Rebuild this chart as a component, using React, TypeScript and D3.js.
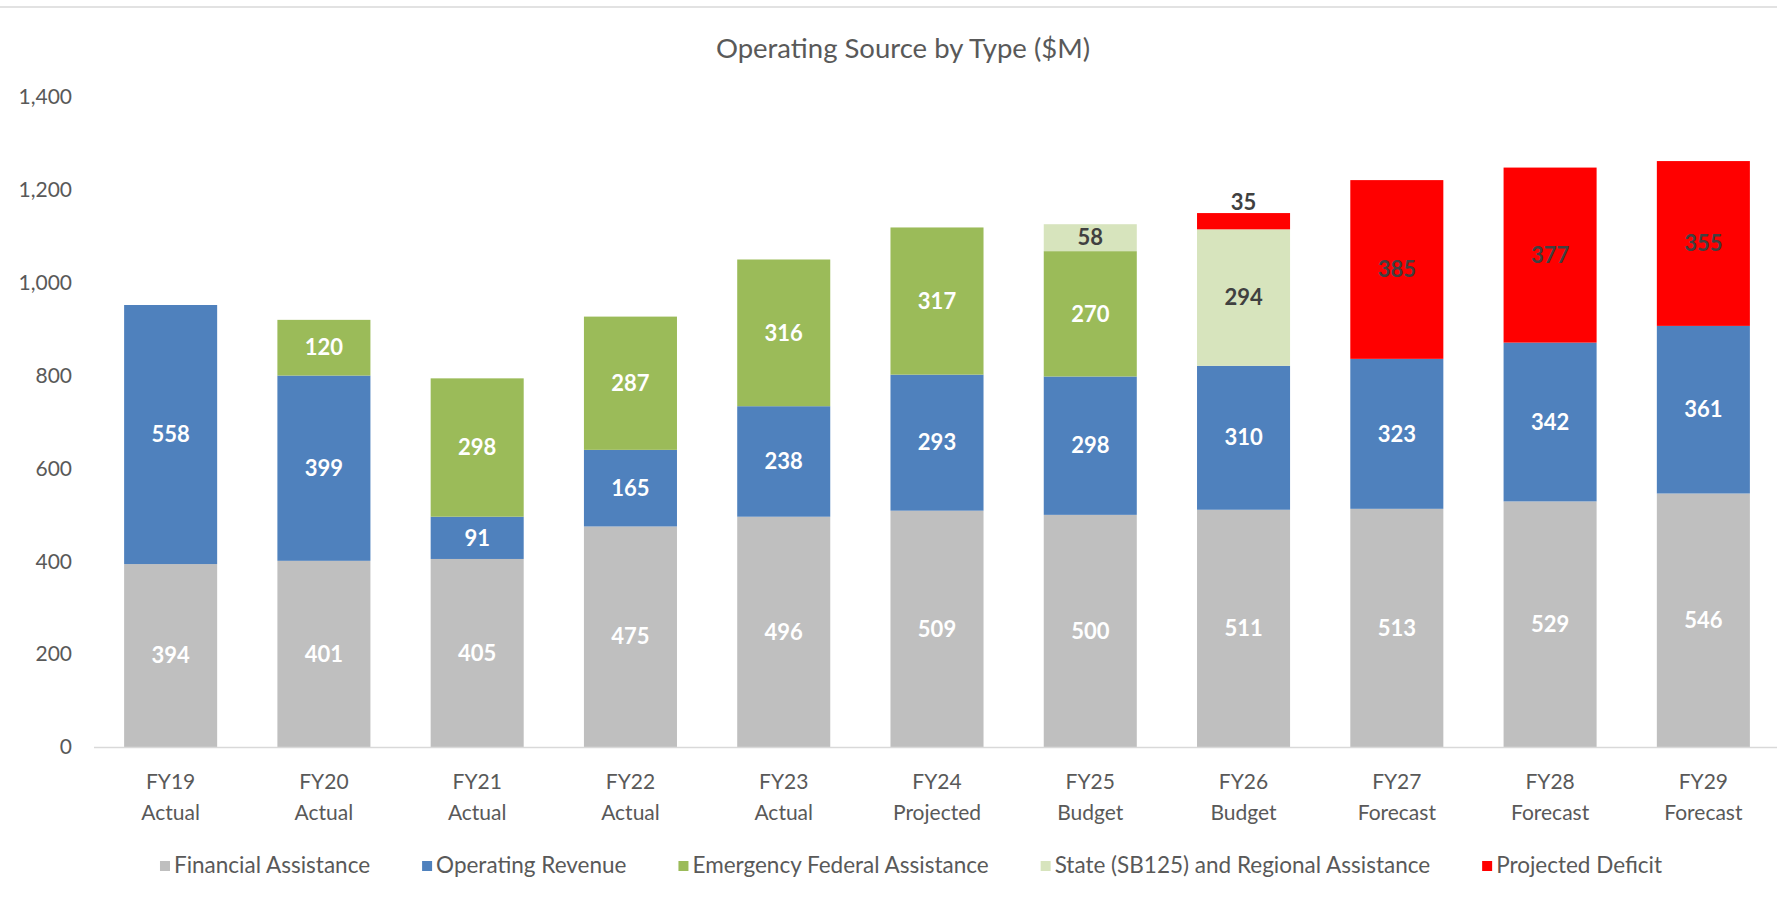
import { useEffect, useRef } from 'react';
import * as d3 from 'd3';

const years = ['FY19', 'FY20', 'FY21', 'FY22', 'FY23', 'FY24', 'FY25', 'FY26', 'FY27', 'FY28', 'FY29'];
const phases = ['Actual', 'Actual', 'Actual', 'Actual', 'Actual', 'Projected', 'Budget', 'Budget', 'Forecast', 'Forecast', 'Forecast'];

const financialAssistance = [394, 401, 405, 475, 496, 509, 500, 511, 513, 529, 546];
const operatingRevenue = [558, 399, 91, 165, 238, 293, 298, 310, 323, 342, 361];
const emergencyFederal = [0, 120, 298, 287, 316, 317, 270, 0, 0, 0, 0];
const stateRegional = [0, 0, 0, 0, 0, 0, 58, 294, 0, 0, 0];
const projectedDeficit = [0, 0, 0, 0, 0, 0, 0, 35, 385, 377, 355];

const seriesNames = [
  'Financial Assistance',
  'Operating Revenue',
  'Emergency Federal Assistance',
  'State (SB125) and Regional Assistance',
  'Projected Deficit',
];
const seriesColors = ['#BFBFBF', '#4F81BD', '#9BBB59', '#D7E4BD', '#FF0000'];
const labelColors = ['#FFFFFF', '#FFFFFF', '#FFFFFF', '#404040', '#404040'];

const yTicks = [0, 200, 400, 600, 800, 1000, 1200, 1400];

function App() {
  const svgRef = useRef<SVGSVGElement>(null);

  useEffect(() => {
    document.body.style.margin = '0';
    const width = 1777;
    const height = 898;
    const font = 'Lato, "Open Sans", sans-serif';

    const svg = d3.select(svgRef.current)
      .attr('width', width)
      .attr('height', height);
    svg.selectAll('*').remove();

    // frame line at the top
    svg.append('line')
      .attr('x1', 0).attr('x2', width)
      .attr('y1', 7).attr('y2', 7)
      .attr('stroke', '#D9D9D9')
      .attr('stroke-width', 1.5);

    svg.append('text')
      .attr('x', 903)
      .attr('y', 58)
      .attr('text-anchor', 'middle')
      .style('font-family', font)
      .style('font-size', '27.5px')
      .attr('fill', '#595959')
      .text('Operating Source by Type ($M)');

    const x = d3.scaleBand<string>()
      .domain(years)
      .range([94, 1780])
      .paddingInner(0.393)
      .paddingOuter(0.1965);

    const y = d3.scaleLinear()
      .domain([0, 1400])
      .range([747, 97]);

    // y axis labels
    svg.append('g')
      .selectAll('text')
      .data(yTicks)
      .enter().append('text')
      .attr('x', 72)
      .attr('y', d => y(d))
      .attr('dy', '0.35em')
      .attr('text-anchor', 'end')
      .style('font-family', font)
      .style('font-size', '21px')
      .attr('fill', '#595959')
      .text(d => d3.format(',')(d));

    const table = years.map((yr, i) => ({
      year: yr,
      s0: financialAssistance[i],
      s1: operatingRevenue[i],
      s2: emergencyFederal[i],
      s3: stateRegional[i],
      s4: projectedDeficit[i],
    }));
    const keys = ['s0', 's1', 's2', 's3', 's4'];
    const stacked = d3.stack<any>().keys(keys)(table);

    const layers = svg.append('g')
      .selectAll('g')
      .data(stacked)
      .enter().append('g')
      .attr('fill', (d, i) => seriesColors[i]);

    layers.selectAll('rect')
      .data(d => d.filter(seg => seg[1] - seg[0] > 0))
      .enter().append('rect')
      .attr('x', d => x(d.data.year) as number)
      .attr('width', x.bandwidth())
      .attr('y', d => y(d[1]))
      .attr('height', d => y(d[0]) - y(d[1]));

    // data labels
    stacked.forEach((layer, i) => {
      svg.append('g')
        .selectAll('text')
        .data(layer.filter(seg => seg[1] - seg[0] > 0))
        .enter().append('text')
        .attr('x', d => (x(d.data.year) as number) + x.bandwidth() / 2)
        .attr('y', d => {
          const h = y(d[0]) - y(d[1]);
          // too thin to hold the label: put it on top
          if (h < 22) return y(d[1]) - 3;
          return (y(d[0]) + y(d[1])) / 2;
        })
        .attr('dy', d => (y(d[0]) - y(d[1]) < 22 ? '0' : '0.35em'))
        .attr('text-anchor', 'middle')
        .style('font-family', font)
        .style('font-size', '22px')
        .style('font-weight', 'bold')
        .attr('fill', d => (y(d[0]) - y(d[1]) < 22 ? '#404040' : labelColors[i]))
        .text(d => d[1] - d[0]);
    });

    // x axis line
    svg.append('line')
      .attr('x1', 94).attr('x2', width)
      .attr('y1', 747.5).attr('y2', 747.5)
      .attr('stroke', '#D9D9D9')
      .attr('stroke-width', 1.5);

    const xl = svg.append('g')
      .selectAll('text')
      .data(years)
      .enter().append('text')
      .attr('text-anchor', 'middle')
      .style('font-family', font)
      .style('font-size', '21px')
      .attr('fill', '#595959');
    xl.append('tspan')
      .attr('x', d => (x(d) as number) + x.bandwidth() / 2)
      .attr('y', 789)
      .text(d => d);
    xl.append('tspan')
      .attr('x', d => (x(d) as number) + x.bandwidth() / 2)
      .attr('y', 820)
      .text((d, i) => phases[i]);

    // legend, laid out by measured text width and centred
    const gap = 52;
    const legend = svg.append('g');
    let cursor = 0;
    seriesNames.forEach((name, i) => {
      const item = legend.append('g').attr('transform', `translate(${cursor},0)`);
      item.append('rect')
        .attr('x', 0).attr('y', 861)
        .attr('width', 10).attr('height', 10)
        .attr('fill', seriesColors[i]);
      const t = item.append('text')
        .attr('x', 14)
        .attr('y', 873)
        .style('font-family', font)
        .style('font-size', '22.5px')
        .attr('fill', '#595959')
        .text(name);
      const w = (t.node() as SVGTextElement).getComputedTextLength();
      cursor += 14 + w + gap;
    });
    const total = cursor - gap;
    legend.attr('transform', `translate(${911 - total / 2},0)`);

    return () => {
      svg.selectAll('*').remove();
    };
  }, []);

  return <svg ref={svgRef}></svg>;
}

export default App;
